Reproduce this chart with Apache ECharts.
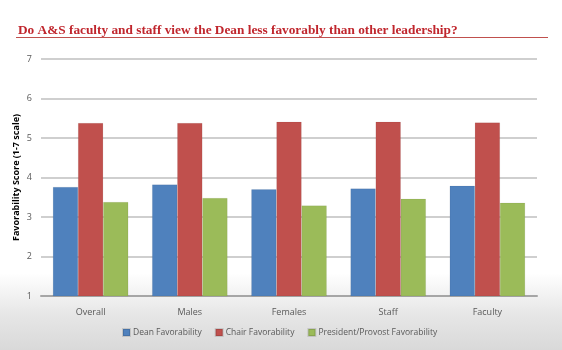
<!DOCTYPE html>
<html>
<head>
<meta charset="utf-8">
<script src="https://cdn.jsdelivr.net/npm/echarts@6/dist/echarts.min.js"></script>
<style>
  html, body { margin: 0; padding: 0; }
  #chart {
    width: 562px; height: 350px;
    background: linear-gradient(to bottom, #ffffff 0%, #ffffff 78%, #e6e6e6 90%, #d9d9d9 100%);
  }
</style>
</head>
<body>
<div id="chart"></div>
<script>
const categories = ["Overall", "Males", "Females", "Staff", "Faculty"];
const deanValues = [3.76, 3.82, 3.70, 3.72, 3.79];
const chairValues = [5.38, 5.38, 5.41, 5.41, 5.39];
const presidentValues = [3.38, 3.48, 3.29, 3.46, 3.36];
const seriesNames = ["Dean Favorability", "Chair Favorability", "President/Provost Favorability"];

const chart = echarts.init(document.getElementById("chart"));

const barStyle = (color) => ({
  color: color,
  borderColor: "rgba(0,0,0,0.12)",
  borderWidth: 0.5
});

chart.setOption({
  backgroundColor: "transparent",
  title: {
    text: "Do A&S faculty and staff view the Dean less favorably than other leadership?",
    left: 13,
    top: 19,
    textStyle: {
      fontFamily: "Liberation Serif",
      fontWeight: "bold",
      fontSize: 13.3,
      color: "#c0262d"
    }
  },
  graphic: [
    {
      type: "line",
      shape: { x1: 16, y1: 37.5, x2: 548, y2: 37.5 },
      style: { stroke: "#c0504d", lineWidth: 1 }
    }
  ],
  legend: {
    data: seriesNames,
    bottom: 8,
    left: 117,
    itemWidth: 7,
    itemHeight: 7,
    itemGap: 13,
    icon: "rect",
    textStyle: { fontFamily: "Open Sans", fontSize: 8.5, color: "#595959", padding: [0, 0, 0, -2] }
  },
  grid: { left: 41, right: 25, top: 59, bottom: 54, outerBoundsMode: "none" },
  xAxis: {
    type: "category",
    data: categories,
    axisLine: { lineStyle: { color: "#a6a6a6", width: 2 } },
    axisTick: { show: false },
    axisLabel: { fontFamily: "Open Sans", fontSize: 9, color: "#595959", margin: 12 }
  },
  yAxis: {
    type: "value",
    min: 1,
    max: 7,
    interval: 1,
    name: "Favorability Score (1-7 scale)",
    nameLocation: "middle",
    nameGap: 20,
    nameMoveOverlap: false,
    nameTextStyle: { fontFamily: "Open Sans", fontSize: 9, fontWeight: "bold", color: "#000000" },
    axisLine: { show: false },
    axisTick: { show: false },
    axisLabel: { fontFamily: "Open Sans", fontSize: 9, color: "#595959", margin: 9 },
    splitLine: { lineStyle: { color: "#bfbfbf", width: 1.5 } }
  },
  series: [
    { name: seriesNames[0], type: "bar", data: deanValues, barGap: "0%", barCategoryGap: "24%", itemStyle: barStyle("#4f81bd") },
    { name: seriesNames[1], type: "bar", data: chairValues, itemStyle: barStyle("#c0504d") },
    { name: seriesNames[2], type: "bar", data: presidentValues, itemStyle: barStyle("#9bbb59") }
  ]
});
</script>
</body>
</html>
